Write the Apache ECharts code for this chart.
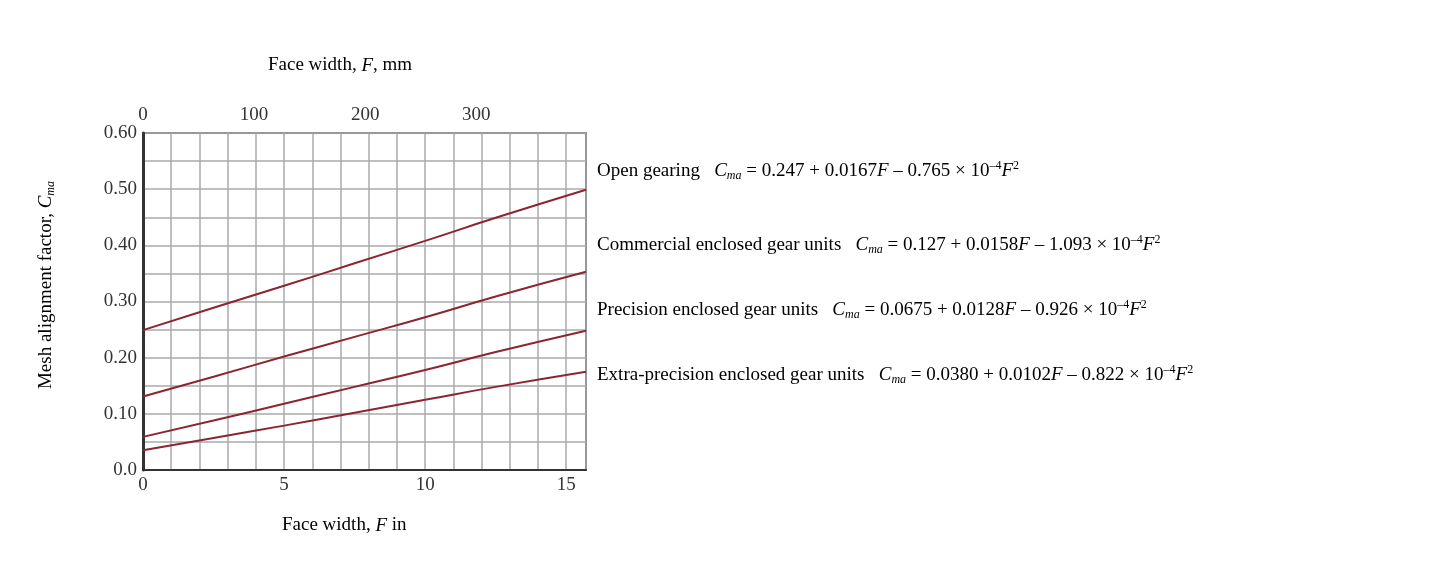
<!DOCTYPE html>
<html><head><meta charset="utf-8">
<script src="https://cdn.jsdelivr.net/npm/echarts@6/dist/echarts.min.js"></script>
<style>html,body{margin:0;padding:0;background:#fff}#c{width:1430px;height:562px}</style>
</head><body><div id="c"></div>
<script>
const xIn = [0, 2.5, 5, 7.5, 10, 12.5, 15.7];
const openGearing = [0.249, 0.289, 0.328, 0.368, 0.408, 0.449, 0.499];
const commercial = [0.131, 0.166, 0.202, 0.237, 0.272, 0.309, 0.353];
const precision = [0.059, 0.088, 0.118, 0.148, 0.178, 0.210, 0.248];
const extra = [0.035, 0.057, 0.079, 0.102, 0.125, 0.148, 0.175];
const labels = [
  ['Open gearing   ', '0.247 + 0.0167', '0.765'],
  ['Commercial enclosed gear units   ', '0.127 + 0.0158', '1.093'],
  ['Precision enclosed gear units   ', '0.0675 + 0.0128', '0.926'],
  ['Extra-precision enclosed gear units   ', '0.0380 + 0.0102', '0.822']
];
const labelY = [172, 246, 311, 376];
const F = 'Liberation Serif';
const col = '#8b2530', tc = '#333';
const rich = {
  n:{fontFamily:F,fontSize:19,color:tc},
  i:{fontFamily:F,fontSize:19,color:tc,fontStyle:'italic'},
  s:{fontFamily:F,fontSize:12,color:tc,fontStyle:'italic',verticalAlign:'bottom',padding:[10,0,0,0]},
  p:{fontFamily:F,fontSize:12,color:tc,verticalAlign:'top',padding:[0,0,10,0]}
};
const graphics = labels.map((l,k)=>({type:'text',left:597,top:labelY[k]-12,style:{
  text:'{n|'+l[0]+'}{i|C}{s|ma}{n| = '+l[1]+'}{i|F}{n| – '+l[2]+' × 10}{p|–4}{i|F}{p|2}',rich:rich}}));
graphics.push({type:'text',left:268,top:56,style:{text:'{n|Face width, }{i|F}{n|, mm}',rich:rich}});
graphics.push({type:'text',left:282,top:516,style:{text:'{n|Face width, }{i|F}{n| in}',rich:rich}});
graphics.push({type:'text',x:46,y:285,rotation:Math.PI/2,style:{text:'{n|Mesh alignment factor, }{i|C}{s|ma}',rich:rich,align:'center',verticalAlign:'middle'}});
const mk = d => xIn.map((x,i)=>[x,d[i]]);
const ser = [openGearing,commercial,precision,extra].map(d=>({type:'line',data:mk(d),smooth:true,symbol:'none',lineStyle:{color:col,width:2}}));
const chart = echarts.init(document.getElementById('c'));
chart.setOption({
  animation:false,
  grid:{left:143,right:844,top:133,bottom:92,show:true,borderColor:'#333',borderWidth:1.5},
  xAxis:[{type:'value',min:0,max:15.7,interval:1,position:'bottom',
    axisLine:{lineStyle:{color:'#333',width:2}},axisTick:{show:false},
    splitLine:{lineStyle:{color:'#aaa',width:1.5}},
    axisLabel:{fontFamily:F,fontSize:19,color:tc,margin:6,showMaxLabel:false,formatter:v=>v%5===0?String(v):''}},
   {type:'value',min:0,max:398.8,interval:100,position:'top',axisLine:{show:false},axisTick:{show:false},splitLine:{show:false},
    axisLabel:{fontFamily:F,fontSize:19,color:tc,margin:8,showMaxLabel:false}}],
  yAxis:{type:'value',min:0,max:0.6,interval:0.05,
    axisLine:{show:true,lineStyle:{color:'#333',width:3}},axisTick:{show:false},
    splitLine:{lineStyle:{color:'#aaa',width:1.5}},
    axisLabel:{fontFamily:F,fontSize:19,color:tc,margin:6,formatter:v=>{const r=Math.round(v*100);if(r%10)return '';return r===0?'0.0':(r/100).toFixed(2);}}},
  series:ser,
  graphic:graphics
});
</script></body></html>
